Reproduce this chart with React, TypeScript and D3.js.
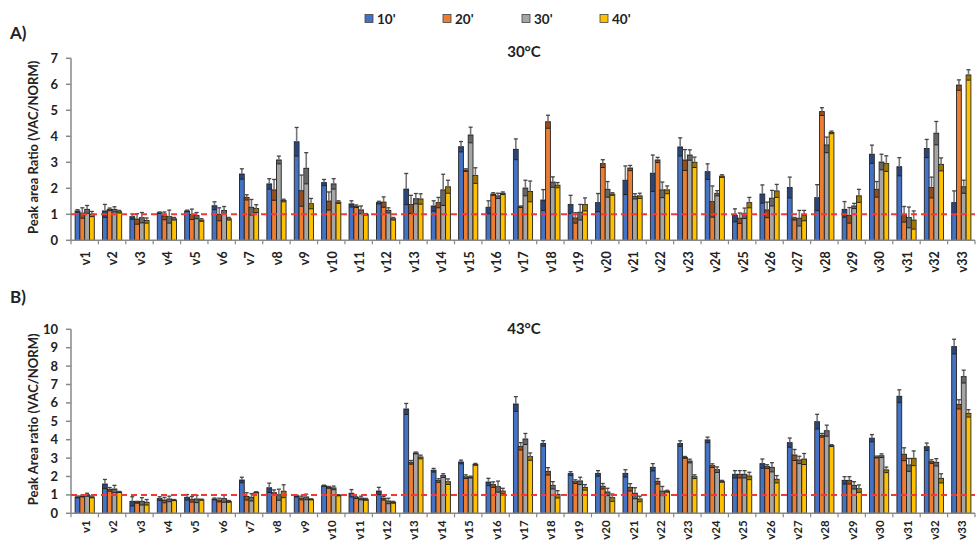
import React from "react";
import * as d3 from "d3";

// Categories (variables) shown along both x axes
const categories = Array.from({ length: 33 }, (_, i) => `v${i + 1}`);
const seriesNames = ["10'", "20'", "30'", "40'"];
const seriesColors = ["#4472C4", "#ED7D31", "#A5A5A5", "#FFC000"];

// Panel A (30°C) – peak area ratios
const a10 = [1.13,1.13,0.91,1.06,1.13,1.33,2.55,2.17,3.79,2.22,1.40,1.45,1.97,1.32,3.60,1.27,3.50,1.55,1.38,1.45,2.31,2.58,3.59,2.64,0.96,1.78,2.03,1.64,1.19,3.31,2.83,3.53,1.45];
const a20 = [1.05,1.19,0.82,0.94,1.00,1.00,1.65,1.94,1.91,1.51,1.31,1.47,1.38,1.45,2.70,1.78,1.29,4.56,0.86,2.95,2.78,3.09,3.09,1.49,0.85,1.17,0.83,4.95,0.96,1.96,1.00,2.03,5.97];
const a30 = [1.19,1.19,0.87,0.91,0.95,1.15,1.27,3.09,2.77,2.17,1.17,1.15,1.60,1.94,4.05,1.71,2.01,2.24,1.08,1.96,1.69,1.94,3.28,1.81,1.04,1.62,0.85,3.67,1.32,3.01,0.88,4.12,2.06];
const a40 = [1.01,1.10,0.76,0.83,0.78,0.83,1.22,1.53,1.41,1.47,1.00,0.83,1.59,2.06,2.49,1.81,1.88,2.12,1.38,1.78,1.71,1.94,3.00,2.47,1.45,1.90,0.95,4.15,1.71,2.95,0.78,2.92,6.36];
// Panel A error bars
const aErr10 = [0.05,0.25,0.1,0.03,0.03,0.15,0.2,0.2,0.55,0.12,0.12,0.05,0.6,0.2,0.2,0.25,0.4,0.4,0.35,0.35,0.55,0.7,0.35,0.3,0.25,0.35,0.4,0.5,0.3,0.35,0.35,0.35,0.45];
const aErr20 = [0.2,0.05,0.2,0.15,0.2,0.25,0.1,0.4,0.6,0.35,0.05,0.2,0.35,0.2,0.05,0.05,0.03,0.25,0.2,0.15,0.1,0.1,0.4,0.6,0.2,0.3,0.05,0.15,0.3,0.3,0.3,0.4,0.2];
const aErr30 = [0.15,0.1,0.2,0.25,0.12,0.15,0.3,0.15,0.6,0.2,0.15,0.1,0.2,0.6,0.3,0.1,0.3,0.2,0.3,0.3,0.1,0.3,0.2,0.1,0.2,0.3,0.3,0.3,0.1,0.3,0.4,0.45,0.25];
const aErr40 = [0.1,0.05,0.1,0.05,0.05,0.05,0.15,0.05,0.2,0.05,0.03,0.05,0.2,0.25,0.3,0.05,0.4,0.1,0.25,0.05,0.1,0.15,0.2,0.05,0.2,0.25,0.2,0.05,0.25,0.3,0.35,0.25,0.2];

// Panel B (43°C) – peak area ratios
const b10 = [0.89,1.59,0.65,0.80,0.87,0.78,1.81,1.39,0.94,1.50,1.09,1.21,5.67,2.34,2.79,1.70,5.94,3.80,2.16,2.17,2.17,2.50,3.79,3.99,2.12,2.70,3.84,4.98,1.79,4.08,6.36,3.62,9.06];
const b20 = [0.94,1.30,0.60,0.72,0.76,0.72,0.92,1.12,0.83,1.41,0.85,0.82,2.77,1.78,1.99,1.56,3.64,2.28,1.72,1.47,1.41,1.74,3.04,2.59,2.12,2.54,3.17,4.24,1.79,3.06,3.21,2.81,5.92];
const b30 = [1.01,1.32,0.65,0.78,0.78,0.80,0.87,1.01,0.89,1.38,0.83,0.67,3.28,2.05,1.97,1.45,4.04,1.52,1.76,1.16,1.09,1.21,2.84,2.37,2.12,2.50,2.90,4.49,1.52,3.13,2.63,2.77,7.43];
const b40 = [0.89,1.16,0.60,0.72,0.74,0.65,1.14,1.20,0.76,0.98,0.76,0.60,3.06,1.72,2.66,1.21,3.08,1.03,1.41,0.85,0.78,1.20,1.99,1.74,2.03,1.85,2.95,3.68,1.34,2.36,2.99,1.90,5.43];
// Panel B error bars
const bErr10 = [0.05,0.25,0.25,0.1,0.15,0.05,0.15,0.25,0.05,0.03,0.2,0.2,0.3,0.1,0.1,0.2,0.4,0.15,0.1,0.15,0.2,0.2,0.15,0.15,0.2,0.25,0.25,0.4,0.2,0.2,0.35,0.2,0.4];
const bErr20 = [0.05,0.1,0.05,0.15,0.15,0.1,0.2,0.15,0.1,0.05,0.05,0.1,0.1,0.1,0.1,0.15,0.2,0.2,0.1,0.15,0.2,0.15,0.05,0.1,0.2,0.1,0.3,0.1,0.2,0.05,0.35,0.1,0.25];
const bErr30 = [0.08,0.2,0.2,0.15,0.2,0.2,0.2,0.3,0.15,0.1,0.1,0.15,0.05,0.1,0.05,0.3,0.3,0.2,0.2,0.2,0.3,0.25,0.1,0.15,0.2,0.25,0.2,0.3,0.2,0.1,0.35,0.2,0.35];
const bErr40 = [0.05,0.03,0.15,0.03,0.03,0.05,0.03,0.35,0.03,0.03,0.05,0.05,0.1,0.15,0.05,0.15,0.2,0.2,0.15,0.2,0.15,0.05,0.1,0.05,0.2,0.2,0.3,0.05,0.2,0.15,0.4,0.25,0.2];

const FONT = "Lato, 'Open Sans', sans-serif";
const X0 = 71;
const X1 = 975;

const xBand = d3.scaleBand<string>().domain(categories).range([X0, X1]).paddingInner(0.3).paddingOuter(0.15);
const xSeries = d3.scaleBand<number>().domain([0, 1, 2, 3]).range([0, xBand.bandwidth()]);

type PanelProps = {
  series: number[][];
  errors: number[][];
  yMax: number;
  yBottom: number;
  yTop: number;
  title: string;
  titleY: number;
  yLabel: string;
  tag: string;
  tagY: number;
  labelGap: number;
  labelSize: number;
};

function Panel({ series, errors, yMax, yBottom, yTop, title, titleY, yLabel, tag, tagY, labelGap, labelSize }: PanelProps) {
  const y = d3.scaleLinear().domain([0, yMax]).range([yBottom, yTop]);
  const ticks = d3.range(0, yMax + 1);
  const bw = xSeries.bandwidth();
  const boundaries = [...categories.map((c) => xBand(c)! - (xBand.step() * xBand.paddingInner()) / 2), X1];
  return (
    <g>
      <text x={10} y={tagY} fontFamily={FONT} fontWeight={700} fontSize={17} fill="#222">{tag}</text>
      <text x={(X0 + X1) / 2 + 1} y={titleY} textAnchor="middle" fontFamily={FONT} fontWeight={700} fontSize={15} fill="#222">{title}</text>
      <text
        transform={`translate(38, ${(yBottom + yTop) / 2 - 2}) rotate(-90)`}
        textAnchor="middle"
        fontFamily={FONT}
        fontWeight={700}
        fontSize={13}
        fill="#222"
      >{yLabel}</text>
      {/* y axis */}
      <line x1={X0} x2={X0} y1={yTop} y2={yBottom} stroke="#888" strokeWidth={1.5} />
      {ticks.map((t) => (
        <g key={t}>
          <line x1={X0 - 5} x2={X0} y1={y(t)} y2={y(t)} stroke="#888" strokeWidth={1.5} />
          <text x={X0 - 13} y={y(t)} dy="0.35em" textAnchor="end" fontFamily={FONT} fontWeight={700} fontSize={13} fill="#222">{t}</text>
        </g>
      ))}
      {/* bars with error bars */}
      {categories.map((c, i) => (
        <g key={c} transform={`translate(${xBand(c)}, 0)`}>
          {series.map((s, k) => {
            const v = s[i];
            const e = errors[k][i];
            const bx = xSeries(k)!;
            const cx = bx + bw / 2;
            return (
              <g key={k}>
                <rect x={bx} y={y(v)} width={bw} height={yBottom - y(v)} fill={seriesColors[k]} stroke="#222" strokeWidth={0.9} />
                <rect x={bx + 0.5} y={y(v)} width={bw - 1} height={y(Math.max(0, v - e)) - y(v)} fill="rgba(0,0,0,0.38)" />
                <line x1={cx} x2={cx} y1={y(v)} y2={y(v + e)} stroke="#777" strokeWidth={1.6} />
                <line x1={cx - 2} x2={cx + 2} y1={y(v + e)} y2={y(v + e)} stroke="#444" strokeWidth={1.3} />
                <line x1={cx - 2} x2={cx + 2} y1={y(Math.max(0, v - e))} y2={y(Math.max(0, v - e))} stroke="#222" strokeWidth={1} />
              </g>
            );
          })}
        </g>
      ))}
      {/* x axis */}
      <line x1={X0} x2={X1} y1={yBottom} y2={yBottom} stroke="#888" strokeWidth={1.5} />
      {boundaries.map((bx, i) => (
        <line key={i} x1={bx} x2={bx} y1={yBottom} y2={yBottom + 4} stroke="#888" strokeWidth={1.2} />
      ))}
      {categories.map((c) => (
        <text
          key={c}
          transform={`translate(${xBand(c)! + xBand.bandwidth() / 2 + 1}, ${yBottom + labelGap}) rotate(-90)`}
          textAnchor="end"
          dy="0.35em"
          fontFamily={FONT}
          fontWeight={700}
          fontSize={labelSize}
          fill="#222"
        >{c}</text>
      ))}
      {/* reference ratio = 1 */}
      <line x1={X0} x2={X1} y1={y(1)} y2={y(1)} stroke="#F03A3A" strokeWidth={2} strokeDasharray="6,4" />
    </g>
  );
}

export default function App() {
  const legendX = [365, 443, 522, 600];
  return (
    <svg width={979} height={543} style={{ position: "absolute", left: 0, top: 0, background: "#fff" }}>
      <rect width={979} height={543} fill="#fff" />
      {seriesNames.map((n, k) => (
        <g key={n}>
          <rect x={legendX[k]} y={14.5} width={8} height={8} fill={seriesColors[k]} stroke="#444" strokeWidth={0.8} />
          <text x={legendX[k] + 12} y={19} dy="0.35em" fontFamily={FONT} fontWeight={700} fontSize={13.5} fill="#222">{n}</text>
        </g>
      ))}
      <Panel
        series={[a10, a20, a30, a40]}
        errors={[aErr10, aErr20, aErr30, aErr40]}
        yMax={7}
        yBottom={240.3}
        yTop={58.3}
        title="30°C"
        titleY={57}
        yLabel="Peak area Ratio (VAC/NORM)"
        tag="A)"
        tagY={39}
        labelGap={11}
        labelSize={12.5}
      />
      <Panel
        series={[b10, b20, b30, b40]}
        errors={[bErr10, bErr20, bErr30, bErr40]}
        yMax={10}
        yBottom={513.3}
        yTop={329.3}
        title="43°C"
        titleY={334}
        yLabel="Peak Area ratio (VAC/NORM)"
        tag="B)"
        tagY={303}
        labelGap={7}
        labelSize={11.5}
      />
    </svg>
  );
}
